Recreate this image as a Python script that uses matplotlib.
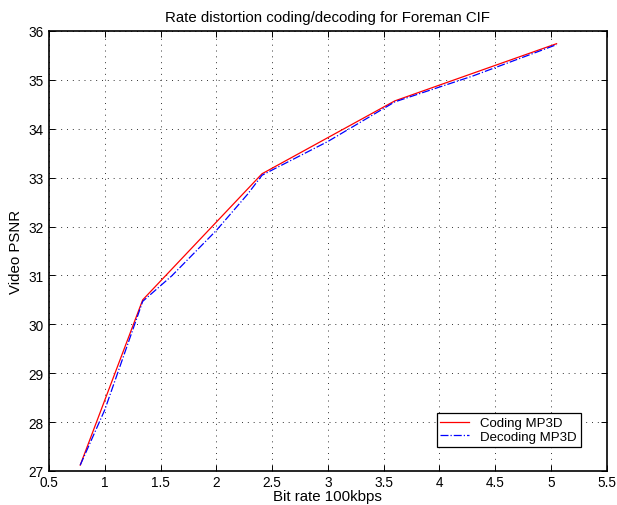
import matplotlib
matplotlib.use("Agg")
import matplotlib.pyplot as plt

coding_x = [0.78, 1.34, 2.41, 3.60, 5.05]
coding_y = [27.12, 30.50, 33.08, 34.57, 35.74]

decoding_x = [0.78, 1.00, 1.34, 1.60, 2.00, 2.28, 2.41, 3.00, 3.60, 4.30, 5.05]
decoding_y = [27.12, 28.25, 30.47, 30.99, 31.92, 32.66, 33.05, 33.74, 34.55, 35.08, 35.72]

xticks = [0.5, 1, 1.5, 2, 2.5, 3, 3.5, 4, 4.5, 5, 5.5]
yticks = [27, 28, 29, 30, 31, 32, 33, 34, 35, 36]

plt.rcParams['font.family'] = ['Liberation Sans', 'DejaVu Sans']

fig = plt.figure(figsize=(6.17, 5.06), dpi=100)
ax = fig.add_axes([0.0794, 0.0672, 0.904, 0.8696])

ax.plot(coding_x, coding_y, color='red', linestyle='-', linewidth=0.9, label='Coding MP3D')
ax.plot(decoding_x, decoding_y, color='blue', linestyle='-.', linewidth=0.9, label='Decoding MP3D')

ax.set_xlim(0.5, 5.5)
ax.set_ylim(27, 36)
ax.set_xticks(xticks)
ax.set_xticklabels([f"{t:g}" for t in xticks])
ax.set_yticks(yticks)
ax.set_yticklabels([f"{t:g}" for t in yticks])
ax.tick_params(direction='in', top=True, right=True, labelsize=9.8, length=4, width=0.7)
ax.tick_params(axis='x', pad=3)
ax.tick_params(axis='y', pad=4)
ax.grid(True, linestyle=(0, (1, 5)), color='#333333', linewidth=0.7)
for s in ax.spines.values():
    s.set_linewidth(1.2)

ax.set_title('Rate distortion coding/decoding for Foreman CIF', fontsize=10.8, pad=7)
ax.set_xlabel('Bit rate 100kbps', fontsize=10.8, labelpad=0)
ax.set_ylabel('Video PSNR', fontsize=10.8, labelpad=4)

leg = ax.legend(loc='lower right', bbox_to_anchor=(0.965, 0.04), fontsize=9.5,
                fancybox=False, framealpha=1, edgecolor='black',
                borderpad=0.3, handlelength=2.2, labelspacing=0.1)
leg.get_frame().set_linewidth(0.9)

fig.savefig('out.png', dpi=100)
